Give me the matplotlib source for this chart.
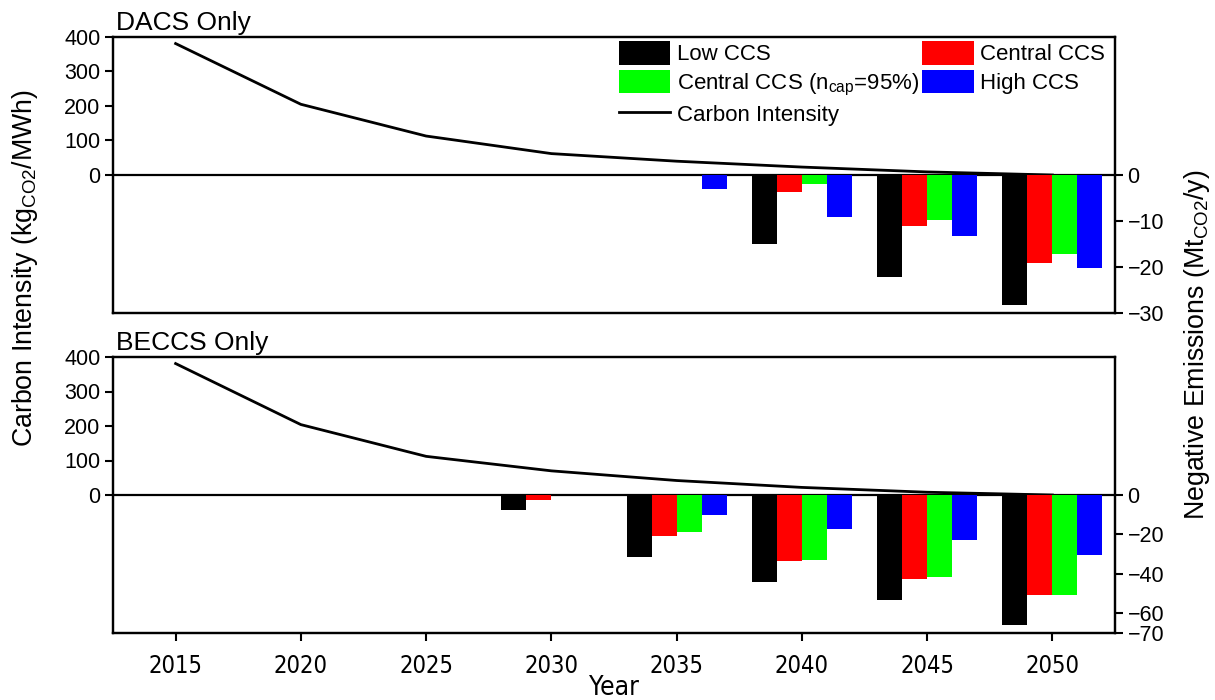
import matplotlib
matplotlib.use("Agg")
import matplotlib.pyplot as plt
import numpy as np
from matplotlib import font_manager
from matplotlib.patches import Patch
from matplotlib.lines import Line2D

plt.rcParams['font.family'] = ['Liberation Sans', 'DejaVu Sans']
plt.rcParams['mathtext.default'] = 'regular'

# ---- data ----
years = [2015, 2020, 2025, 2030, 2035, 2040, 2045, 2050]
bar_years = [2030, 2035, 2040, 2045, 2050]

dacs_intensity = [381, 205, 113, 62, 40, 23, 9, 0]
beccs_intensity = [381, 204, 112, 70, 42, 22, 8, 0]

series_names = ["Low CCS", "Central CCS", "Central CCS (n$_{cap}$=95%)", "High CCS"]
series_colors = ["#000000", "#ff0000", "#00ff00", "#0000ff"]

dacs_low = [0, 0, -14.9, -22.1, -28.2]
dacs_central = [0, 0, -3.7, -11.1, -19.2]
dacs_central95 = [0, 0, -2.0, -9.7, -17.1]
dacs_high = [0, -3.0, -9.1, -13.2, -20.2]

beccs_low = [-7.7, -31.7, -44.0, -53.3, -65.7]
beccs_central = [-2.3, -20.7, -33.5, -42.5, -50.8]
beccs_central95 = [0, -18.7, -33.0, -41.8, -50.8]
beccs_high = [0, -10.0, -17.2, -22.7, -30.3]

ci_ticks = [0, 100, 200, 300, 400]
dacs_ne_ticks = [0, -10, -20, -30]
beccs_ne_ticks = [0, -20, -40, -60, -70]
x_ticks = years

# condensed face for the year axis, if one is installed
_names = {f.name for f in font_manager.fontManager.ttflist}
_cond = [(f.name, f.stretch) for f in font_manager.fontManager.ttflist]
if 'Liberation Sans Narrow' in _names:
    year_font = dict(family='Liberation Sans Narrow', fontsize=19)
    year_label_size = 21
elif 'DejaVu Sans Condensed' in _names:
    year_font = dict(family='DejaVu Sans Condensed', fontsize=17)
    year_label_size = 19
elif any(n == 'DejaVu Sans' and s == 'condensed' for n, s in _cond):
    year_font = dict(family='DejaVu Sans', fontstretch='condensed', fontsize=17)
    year_label_size = 19
else:
    year_font = dict(family='Liberation Sans', fontsize=16.5)
    year_label_size = 18

fig = plt.figure(figsize=(12.15, 7.0), dpi=100)

L, W = 113 / 1215, (1115 - 113) / 1215
H = 276 / 700
ax_top = fig.add_axes([L, 1 - 313 / 700, W, H])
ax_bot = fig.add_axes([L, 1 - 633 / 700, W, H])

tick_fs = 15.5


def panel(ax, intensity, series, ne_lim, ne_ticks, title):
    ax.set_xlim(2012.5, 2052.5)
    ax.set_ylim(-400, 400)
    ax.set_yticks(ci_ticks)
    ax.plot(years, intensity, color='black', lw=2, zorder=3)
    ax.axhline(0, color='black', lw=1.6, zorder=4)
    ax.tick_params(axis='y', direction='out', length=6, width=1.5,
                   labelsize=tick_fs, pad=3)
    for s in ax.spines.values():
        s.set_linewidth(1.6)
    ax.text(0.003, 1.008, title, transform=ax.transAxes, ha='left',
            va='bottom', fontsize=19)

    ax2 = ax.twinx()
    ax2.set_ylim(-ne_lim, ne_lim)
    ax2.set_yticks(ne_ticks)
    ax2.tick_params(axis='y', direction='out', length=6, width=1.5,
                    labelsize=tick_fs, pad=3)
    for s in ax2.spines.values():
        s.set_linewidth(1.6)
    offsets = [-1.5, -0.5, 0.5, 1.5]
    xs = np.array(bar_years, dtype=float)
    for vals, off, col in zip(series, offsets, series_colors):
        ax2.bar(xs + off, vals, width=1.0, color=col, edgecolor='none',
                zorder=2)
    return ax2


panel(ax_top, dacs_intensity,
      [dacs_low, dacs_central, dacs_central95, dacs_high],
      30, dacs_ne_ticks, "DACS Only")
panel(ax_bot, beccs_intensity,
      [beccs_low, beccs_central, beccs_central95, beccs_high],
      70, beccs_ne_ticks, "BECCS Only")

ax_top.tick_params(axis='x', bottom=False, labelbottom=False)
ax_bot.set_xticks(x_ticks)
ax_bot.set_xticklabels([str(y) for y in x_ticks], **year_font)
ax_bot.tick_params(axis='x', direction='out', length=6, width=1.5, pad=9)
xl_font = dict(year_font)
xl_font['fontsize'] = year_label_size
ax_bot.set_xlabel("Year", labelpad=-2, **xl_font)

fig.text(0.0206, 1 - 268 / 700, "Carbon Intensity (kg$_{CO2}$/MWh)",
         rotation=90, ha='center', va='center', fontsize=19.3)
fig.text(0.985, 1 - 345 / 700, "Negative Emissions (Mt$_{CO2}$/y)",
         rotation=90, ha='center', va='center', fontsize=19.3)

handles = [Patch(facecolor=series_colors[0]),
           Patch(facecolor=series_colors[2]),
           Line2D([], [], color='black', lw=2),
           Patch(facecolor=series_colors[1]),
           Patch(facecolor=series_colors[3])]
labels = [series_names[0], series_names[2], "Carbon Intensity",
          series_names[1], series_names[3]]
ax_top.legend(handles, labels, ncol=2, loc='upper left',
              bbox_to_anchor=(0.505, 0.985), frameon=False, fontsize=16,
              handlelength=2.3, handleheight=1.25, handletextpad=0.3,
              columnspacing=0.15, labelspacing=0.2, borderpad=0,
              borderaxespad=0)

fig.savefig("out.png", dpi=100)
